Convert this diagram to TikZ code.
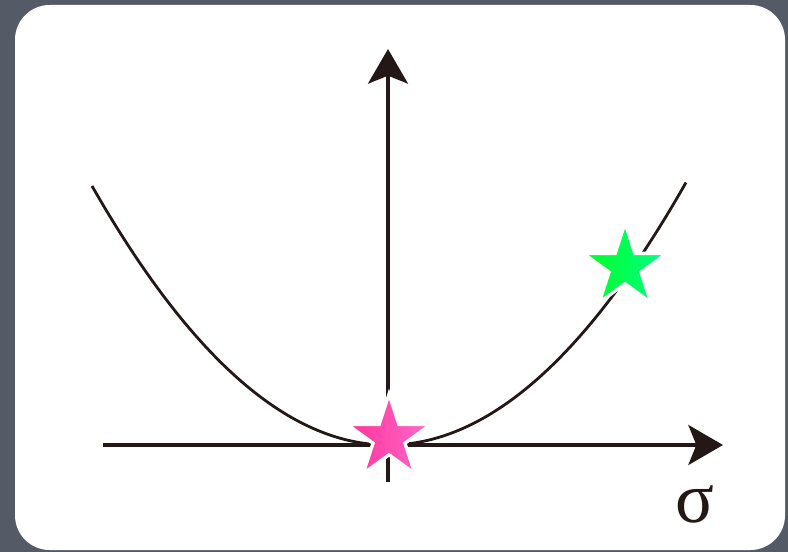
\documentclass[tikz,border=0pt]{standalone}
\usepackage{fontspec}
\newfontfamily\greekfont{Liberation Serif}
\usetikzlibrary{shapes.geometric,arrows.meta}
\definecolor{slate}{HTML}{555A67}
\definecolor{ink}{HTML}{231815}
\definecolor{pinkleft}{HTML}{FF3399}
\definecolor{pinkright}{HTML}{FF6ACB}
\definecolor{greenleft}{HTML}{00FF22}
\definecolor{greenright}{HTML}{00FF88}
\begin{document}
\begin{tikzpicture}[x=0.75pt,y=-0.75pt,
    axis/.style={ink, line width=2.3pt, -{Stealth[length=26pt,width=30pt,inset=6pt]}},
    starmark/.style={star, star points=5, star point ratio=2.618, minimum size=66pt,
        inner sep=0pt, draw=white, line width=2.5pt, shading=axis, shading angle=90}]
    \useasboundingbox (0,0) rectangle (788,552);
    \fill[slate] (0,0) rectangle (788,552);
    \fill[white, rounded corners=26pt] (15,5) rectangle (785,550);
    \coordinate (origin) at (388,445);
    \coordinate (xleft) at (103,445);
    \coordinate (xright) at (723,445);
    \coordinate (ybottom) at (388,482);
    \coordinate (ytop) at (388,49);
    \draw[ink, line width=2.1pt] plot[domain=92:686, samples=80, smooth]
        (\x, {445-29.56*((\x-388)/100)^2});
    \draw[axis] (xleft) -- (xright);
    \draw[axis] (ybottom) -- (ytop);
    \node[starmark, left color=pinkleft, right color=pinkright] (pinkstar) at (389,438) {};
    \node[starmark, left color=greenleft, right color=greenright] (greenstar) at (625,267) {};
    \node[ink] (sigma) at (695,504) {\greekfont\fontsize{54}{54}\selectfont σ};
\end{tikzpicture}
\end{document}
